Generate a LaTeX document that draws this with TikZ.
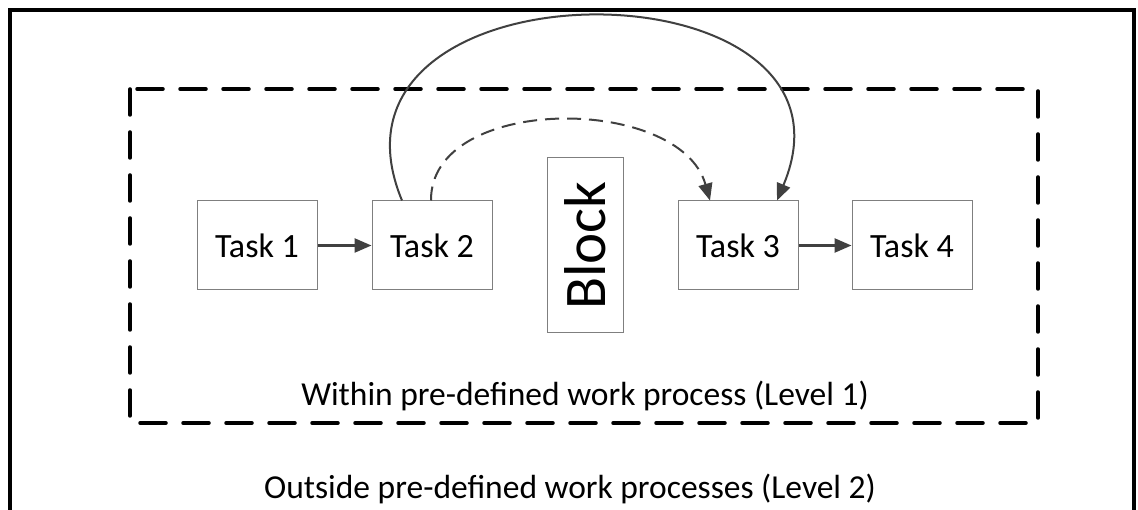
\documentclass[tikz,border=0pt]{standalone}
\usepackage{fontspec}
\setmainfont{Carlito}
\usetikzlibrary{arrows.meta}
\definecolor{linegray}{HTML}{404040}
\definecolor{boxgray}{HTML}{7F7F7F}
\begin{document}
\begin{tikzpicture}[x=1pt,y=-1pt,
  taskbox/.style={draw=boxgray,line width=1pt,minimum width=120pt,minimum height=89pt,inner sep=0pt,font=\fontsize{34}{40}\selectfont},
  conn/.style={draw=linegray,line width=2pt,-{Triangle[length=17pt,width=14pt]}},
  label/.style={anchor=base,font=\fontsize{33.5}{40}\selectfont,inner sep=0pt}]
\useasboundingbox (0,0) rectangle (1138,510);
\clip (0,0) rectangle (1138,510);
% outer frame
\draw[line width=3.5pt] (10,10) rectangle (1134,540);
% dashed inner frame
\draw[line width=3.5pt,dash pattern=on 26pt off 17pt,line cap=round] (130,89) rectangle (1038,423);
% boxes
\node[taskbox] (t1) at (257,245.5) {Task 1};
\node[taskbox] (t2) at (432,245.5) {Task 2};
\node[taskbox] (t3) at (738,245.5) {Task 3};
\node[taskbox] (t4) at (912,245.5) {Task 4};
\node[draw=boxgray,line width=1pt,minimum width=76pt,minimum height=175pt,inner sep=0pt] (blk) at (585,245.5) {};
\node[rotate=90,font=\fontsize{59}{62}\selectfont,inner sep=0pt] at (blk.center) {Block};
% connectors
\draw[conn,line width=2.5pt] (t1.east) -- (t2.west);
\draw[conn,line width=2.5pt] (t3.east) -- (t4.west);
\coordinate (s2) at ([xshift=-30pt]t2.north);
\coordinate (e3) at ([xshift=39pt]t3.north);
\draw[conn] (s2) .. controls (300,-45) and (880,-45) .. (e3);
\coordinate (d2) at ([xshift=-1pt]t2.north);
\coordinate (f3) at ([xshift=-28pt]t3.north);
\draw[conn,dash pattern=on 14pt off 8pt] (d2) .. controls (430,94) and (680,94) .. (f3);
% labels
\node[label] (l1) at (585,406) {Within pre-defined work process (Level 1)};
\node[label] (l2) at (570,498) {Outside pre-defined work processes (Level 2)};
\end{tikzpicture}
\end{document}
